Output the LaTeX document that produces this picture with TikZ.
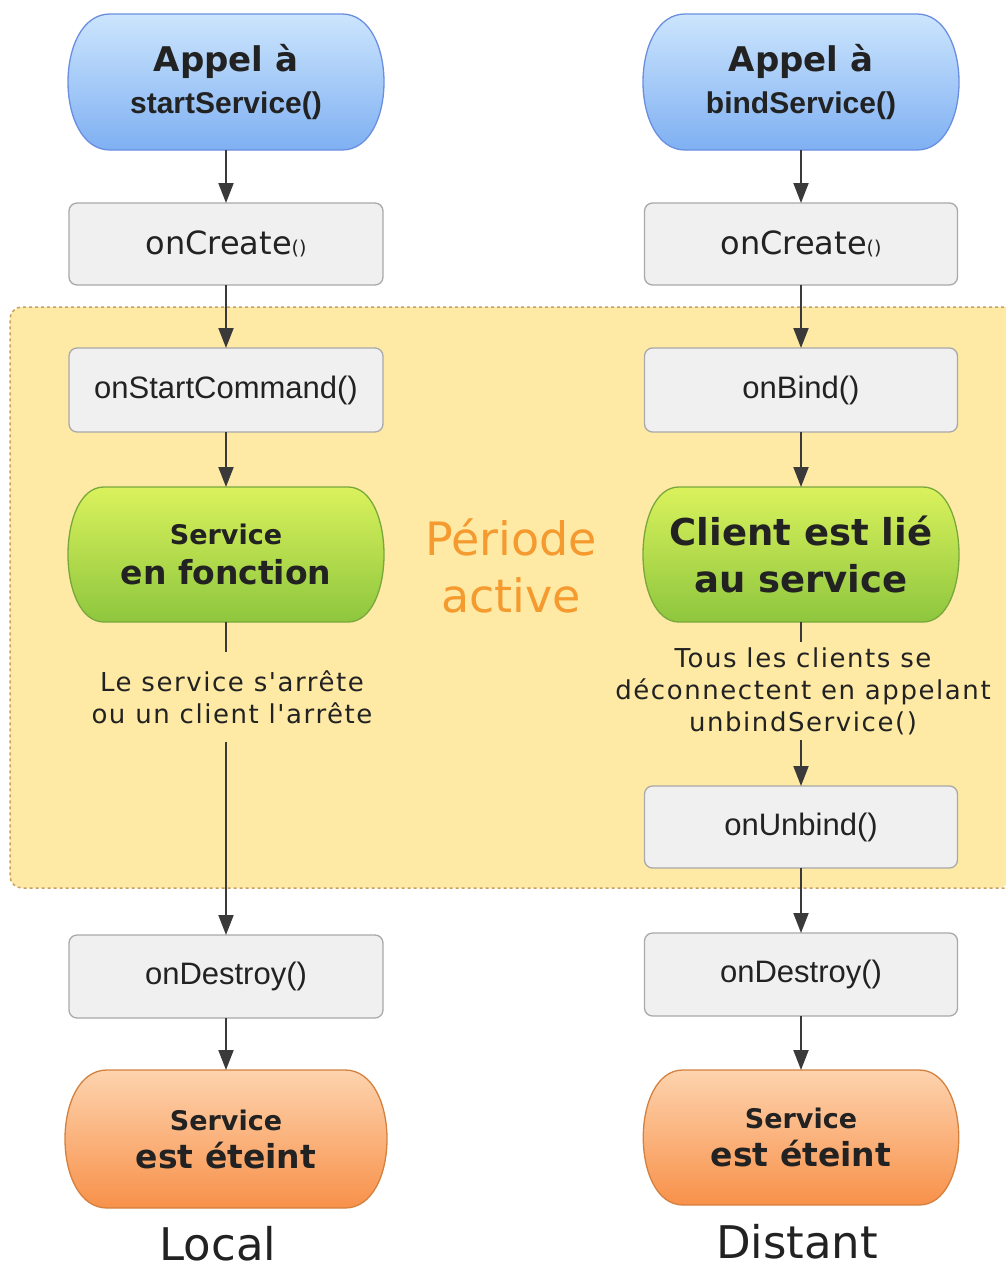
\documentclass[tikz,border=0pt]{standalone}
\usepackage{fontspec}
\setmainfont{DejaVu Sans}
\newfontfamily\lib{Liberation Sans}
\newfontfamily\dvsls[LetterSpace=6]{DejaVu Sans}
\usetikzlibrary{arrows.meta,backgrounds}
\definecolor{bluetop}{HTML}{CCE5FD}
\definecolor{bluebot}{HTML}{7FB0F2}
\definecolor{blueborder}{HTML}{6A8EE0}
\definecolor{greentop}{HTML}{DAF25C}
\definecolor{greenbot}{HTML}{8EC63E}
\definecolor{greenborder}{HTML}{78A83C}
\definecolor{orangetop}{HTML}{FDD3AE}
\definecolor{orangebot}{HTML}{F8914A}
\definecolor{orangeborder}{HTML}{D4813F}
\definecolor{boxfill}{HTML}{F0F0F0}
\definecolor{boxborder}{HTML}{A9A9A9}
\definecolor{yfill}{HTML}{FEEAA5}
\definecolor{yborder}{HTML}{C9A063}
\definecolor{periode}{HTML}{F59A2F}
\definecolor{arrowc}{HTML}{3A3A3A}
\definecolor{txtc}{HTML}{222222}
\newcommand\capsh[4]{% name, inset, overshoot, style
\begin{pgfonlayer}{background}
\path[#4] ([xshift=#2]#1.north west) -- ([xshift=-#2]#1.north east)
 .. controls ([xshift=#3]#1.north east) and ([xshift=#3]#1.south east) .. ([xshift=-#2]#1.south east)
 -- ([xshift=#2]#1.south west)
 .. controls ([xshift=-#3]#1.south west) and ([xshift=-#3]#1.north west) .. ([xshift=#2]#1.north west) -- cycle;
\end{pgfonlayer}}
\tikzset{
  procbox/.style={draw=boxborder, fill=boxfill, rounded corners=8pt, line width=1.3pt,
    minimum width=314pt, minimum height=82pt, inner sep=0pt, outer sep=0pt, text=txtc,
    font=\lib\fontsize{31}{36}\selectfont},
  capnode/.style={minimum width=316pt, minimum height=136pt, inner sep=0pt, outer sep=0pt, align=center, text=txtc},
  bluecap/.style={top color=bluetop, bottom color=bluebot, draw=blueborder, line width=1.3pt},
  greencap/.style={top color=greentop, bottom color=greenbot, draw=greenborder, line width=1.3pt},
  orangecap/.style={top color=orangetop, bottom color=orangebot, draw=orangeborder, line width=1.3pt},
  arr/.style={draw=arrowc, line width=2pt, -{Triangle[length=20pt,width=15pt]}},
  plainln/.style={draw=arrowc, line width=2pt},
  note/.style={font=\dvsls\fontsize{26}{32}\selectfont, align=center, inner xsep=0pt, text=txtc},
}
\begin{document}
\begin{tikzpicture}[x=1pt,y=-1pt]
\useasboundingbox (0,0) rectangle (1006,1269);
% active period region
\begin{pgfonlayer}{background}
\fill[yfill] [rounded corners=12pt] (1010,307) -- (10,307) -- (10,888) -- (1010,888) [sharp corners] -- cycle;
\draw[yborder, line width=1.5pt, dash pattern=on 3pt off 3pt] [rounded corners=12pt] (1010,307) -- (10,307) -- (10,888) -- (1010,888);
\end{pgfonlayer}

% ---------- left column ----------
\node[capnode, font=\fontsize{30}{42}\selectfont] (b1) at (226,82)
  {{\fontsize{34}{42}\selectfont\bfseries Appel à}\\{\lib\bfseries\fontsize{30}{42}\selectfont startService()}};
\capsh{b1}{42pt}{14pt}{bluecap}
\node[procbox] (c1) at (226,244) {\fontspec{DejaVu Sans}\fontsize{32}{36}\selectfont onCreate{\fontsize{19}{20}\selectfont()}};
\node[procbox, minimum height=84pt] (s1) at (226,390) {onStartCommand()};
\node[capnode, minimum height=135pt, font=\fontsize{33}{40}\selectfont\bfseries] (g1) at (226,554.5)
  {{\fontsize{27}{40}\selectfont Service}\\en fonction};
\capsh{g1}{36pt}{12pt}{greencap}
\node[note, inner ysep=18pt] (t1) at (232,697) {Le service s'arrête\\ou un client l'arrête};
\node[procbox, minimum height=83pt] (d1) at (226,976.5) {onDestroy()};
\node[capnode, minimum width=322pt, minimum height=138pt, font=\fontsize{33}{38}\selectfont\bfseries] (o1) at (226,1139)
  {{\fontsize{27}{38}\selectfont Service}\\est éteint};
\capsh{o1}{42pt}{14pt}{orangecap}
\node[font=\fontsize{45}{50}\selectfont, anchor=base, text=txtc] (loc) at (218,1260) {Local};

% ---------- right column ----------
\node[capnode, font=\fontsize{30}{42}\selectfont] (b2) at (801,82)
  {{\fontsize{34}{42}\selectfont\bfseries Appel à}\\{\lib\bfseries\fontsize{30}{42}\selectfont bindService()}};
\capsh{b2}{42pt}{14pt}{bluecap}
\node[procbox, minimum width=313pt] (c2) at (801,244) {\fontspec{DejaVu Sans}\fontsize{32}{36}\selectfont onCreate{\fontsize{19}{20}\selectfont()}};
\node[procbox, minimum width=313pt, minimum height=84pt] (s2) at (801,390) {onBind()};
\node[capnode, minimum height=135pt, font=\fontsize{37}{47}\selectfont\bfseries] (g2) at (801,554.5)
  {Client est lié\\au service};
\capsh{g2}{36pt}{12pt}{greencap}
\node[note, inner ysep=5pt] (t2) at (803,691) {Tous les clients se\\déconnectent en appelant\\unbindService()};
\node[procbox, minimum width=313pt] (u2) at (801,827) {onUnbind()};
\node[procbox, minimum width=313pt, minimum height=83pt] (d2) at (801,974.5) {onDestroy()};
\node[capnode, minimum height=135pt, font=\fontsize{33}{38}\selectfont\bfseries] (o2) at (801,1137.5)
  {{\fontsize{27}{38}\selectfont Service}\\est éteint};
\capsh{o2}{40pt}{13pt}{orangecap}
\node[font=\fontsize{45}{50}\selectfont, anchor=base, text=txtc] (dist) at (797,1258) {Distant};

% ---------- middle label ----------
\node[font=\fontsize{46}{57}\selectfont, text=periode, align=center] (per) at (511,566) {Période\\active};

% ---------- connectors ----------
\draw[arr] (b1) -- (c1);
\draw[arr] (c1) -- (s1);
\draw[arr] (s1) -- (g1);
\draw[plainln] (g1.south) -- (g1.south |- t1.north);
\draw[arr] (g1.south |- t1.south) -- (d1.north);
\draw[arr] (d1) -- (o1);

\draw[arr] (b2) -- (c2);
\draw[arr] (c2) -- (s2);
\draw[arr] (s2) -- (g2);
\draw[plainln] (g2.south) -- (g2.south |- t2.north);
\draw[arr] (g2.south |- t2.south) -- (u2.north);
\draw[arr] (u2) -- (d2);
\draw[arr] (d2) -- (o2);
\end{tikzpicture}
\end{document}
